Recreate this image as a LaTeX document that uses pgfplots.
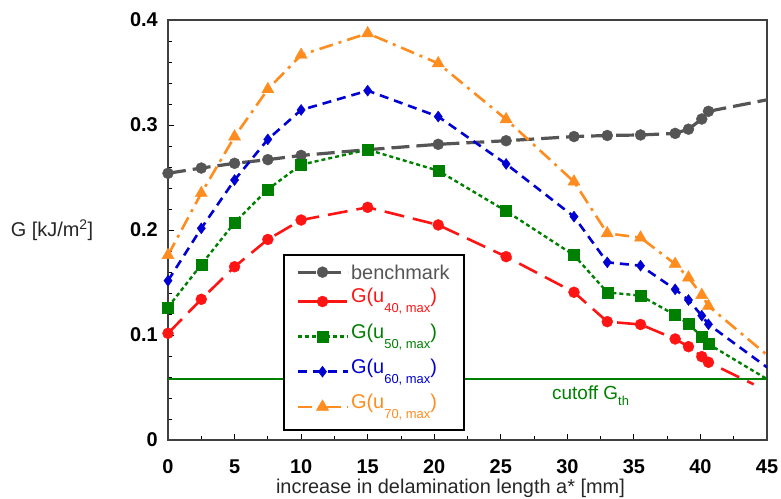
\documentclass[border=0pt]{standalone}
\usepackage{pgfplots}
\pgfplotsset{compat=1.18}
\usepackage{fontspec}
\setmainfont{Liberation Sans}
\definecolor{cgray}{RGB}{85,85,85}
\definecolor{cred}{RGB}{255,20,20}
\definecolor{cgreen}{RGB}{0,128,0}
\definecolor{cblue}{RGB}{0,0,210}
\definecolor{corange}{RGB}{255,140,30}
\newcommand{\sub}[1]{\raisebox{-10bp}{\fontsize{13}{13}\selectfont #1}}
\begin{document}
\begin{tikzpicture}
\begin{axis}[
  name=ax, scale only axis, width=599bp, height=420bp,
  xmin=0, xmax=45, ymin=0, ymax=0.4,
  xtick={0,5,10,15,20,25,30,35,40,45},
  xticklabels={0,5,10,15,20,25,30,35,40,45},
  ytick={0,0.1,0.2,0.3,0.4},
  yticklabels={0,0.1,0.2,0.3,0.4},
  minor x tick num=1, minor y tick num=4,
  tick align=inside, tick pos=left,
  major tick length=6bp, minor tick length=4bp,
  tick style={black, line width=0.8bp},
  axis line style={black!75, line width=1.2bp},
  xticklabel style={font=\bfseries\fontsize{20}{22}\selectfont, anchor=base, yshift=-34bp, inner sep=0pt},
  yticklabel style={font=\bfseries\fontsize{20}{22}\selectfont, anchor=east, xshift=-10bp, inner sep=0pt},
  every axis x label/.style={at={(rel axis cs:0.5,0)}, anchor=base, yshift=-54bp, xshift=-17bp},
  every axis y label/.style={at={(rel axis cs:0,0.5)}, anchor=center, xshift=-116bp},
  label style={font=\fontsize{20}{22}\selectfont, text=black!85},
  xlabel={increase in delamination length a* [mm]},
  ylabel={G [kJ/m\textsuperscript{2}]},
  clip mode=individual,
  legend style={at={(0.192,0.443)}, anchor=north west, draw=black, line width=1.8bp, fill=white,
    inner xsep=12bp, inner ysep=8bp, font=\fontsize{20}{22}\selectfont, row sep=5bp,
    nodes={inner sep=2bp, text depth=}},
  legend cell align=left,
  legend image code/.code={\draw[#1, mark indices={2}] plot coordinates {(0bp,0bp) (25bp,0bp) (50bp,0bp)};},
]
\addplot[cgray, line width=3.2bp, dash pattern=on 18bp off 7bp, mark=*, mark size=5.5bp, mark options={solid, line width=0.4bp}, mark indices={1,2,3,4,5,6,7,8,9,10,11,12,13,14,15}] coordinates {
(0,0.254)(2.5,0.259)(5,0.2635)(7.5,0.267)(10,0.271)(15,0.2765)(20.3,0.2816)(25.4,0.285)(30.5,0.289)(33,0.290)(35.5,0.2905)(38.1,0.292)(39.1,0.296)(40.1,0.3057)(40.6,0.313)(45,0.324)};
\addlegendentry{\textcolor{cgray}{benchmark}}
\addplot[cred, line width=2.6bp, dash pattern=on 20bp off 9bp, mark=*, mark size=5.5bp, mark options={solid, line width=0.4bp}, mark indices={1,2,3,4,5,6,7,8,9,10,11,12,13,14,15}] coordinates {
(0,0.1016)(2.5,0.134)(5,0.165)(7.5,0.191)(10,0.2095)(15,0.2216)(20.3,0.2048)(25.4,0.1746)(30.5,0.1407)(33,0.1127)(35.5,0.110)(38.1,0.0962)(39.1,0.0889)(40.1,0.0794)(40.6,0.074)(44,0.053)};
\addlegendentry{\textcolor{cred}{G(u\sub{40, max})}\hspace*{10bp}}
\addplot[cgreen, line width=2.4bp, dash pattern=on 4bp off 3bp, mark=square*, mark size=5.5bp, mark options={solid, line width=0.4bp}, mark indices={1,2,3,4,5,6,7,8,9,10,11,12,13,14,15}] coordinates {
(0,0.1264)(2.5,0.167)(5,0.207)(7.5,0.2387)(10,0.2622)(15,0.2765)(20.3,0.2565)(25.4,0.218)(30.5,0.176)(33,0.1406)(35.5,0.1375)(38.1,0.119)(39.1,0.1105)(40.1,0.0984)(40.6,0.0914)(45,0.058)};
\addlegendentry{\textcolor{cgreen}{G(u\sub{50, max})}}
\addplot[cblue, line width=2.6bp, dash pattern=on 9bp off 6bp, mark=diamond*, mark size=5.5bp, mark options={solid, line width=0.4bp}, mark indices={1,2,3,4,5,6,7,8,9,10,11,12,13,14,15}] coordinates {
(0,0.1517)(2.5,0.2016)(5,0.2476)(7.5,0.2863)(10,0.3143)(15,0.3327)(20.3,0.308)(25.4,0.2629)(30.5,0.2127)(33,0.1692)(35.5,0.166)(38.1,0.1435)(39.1,0.1333)(40.1,0.1184)(40.6,0.1102)(45,0.0692)};
\addlegendentry{\textcolor{cblue}{G(u\sub{60, max})}}
\addplot[corange, line width=2.6bp, dash pattern=on 14bp off 6bp on 3bp off 6bp, mark=triangle*, mark size=7bp, mark options={solid, line width=0.4bp}, mark indices={1,2,3,4,5,6,7,8,9,10,11,12,13,14,15}] coordinates {
(0,0.176)(2.5,0.235)(5,0.2889)(7.5,0.334)(10,0.3667)(15,0.3873)(20.3,0.3587)(25.4,0.3054)(30.5,0.246)(33,0.1968)(35.5,0.1927)(38.1,0.1676)(39.1,0.1546)(40.1,0.138)(40.6,0.1276)(45,0.081)};
\addlegendentry{\textcolor{corange}{G(u\sub{70, max})}}
\addplot[cgreen, line width=1.2bp, forget plot] coordinates {(0,0.058)(45,0.058)};
\node[anchor=base west, text=cgreen, font=\fontsize{19}{21}\selectfont, inner sep=0pt] at (axis cs:28.85,0.039) {cutoff G\raisebox{-0.6ex}{\fontsize{13}{13}\selectfont th}};
\end{axis}
\pgfresetboundingbox
\path ([shift={(-168bp,-59bp)}]ax.south west) rectangle ([shift={(14bp,20bp)}]ax.north east);
\end{tikzpicture}
\end{document}
